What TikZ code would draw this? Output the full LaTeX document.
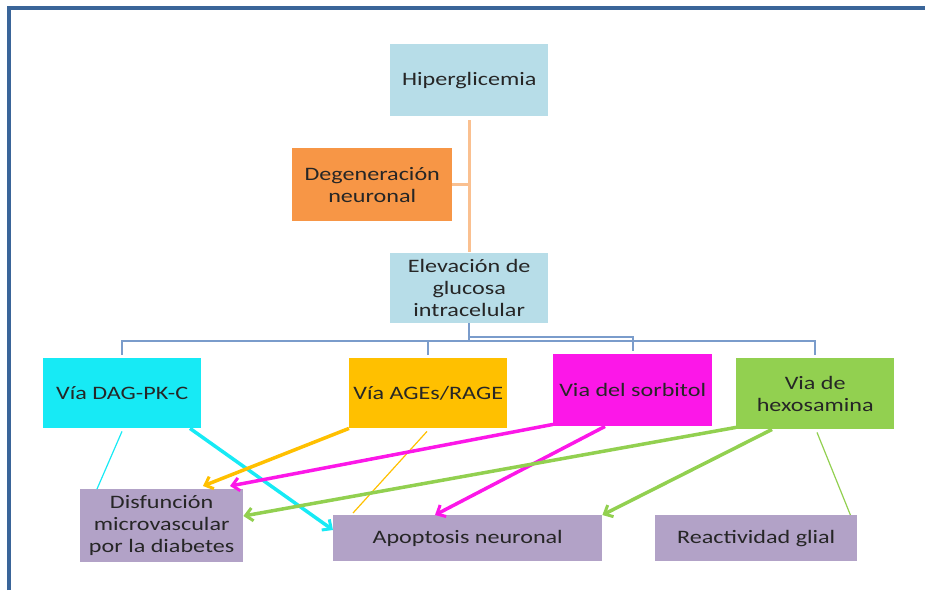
\documentclass[tikz,border=0pt]{standalone}
\usepackage{fontspec}
\setmainfont{Carlito}[FakeStretch=1.27]
\usetikzlibrary{arrows.meta}
\definecolor{frameblue}{HTML}{3A6599}
\definecolor{lblue}{HTML}{B7DDE8}
\definecolor{orangebox}{HTML}{F79646}
\definecolor{peach}{HTML}{FAC090}
\definecolor{cyanbox}{HTML}{17EAF5}
\definecolor{goldbox}{HTML}{FFC000}
\definecolor{magbox}{HTML}{FC17E8}
\definecolor{greenbox}{HTML}{92D050}
\definecolor{lav}{HTML}{B2A2C7}
\definecolor{linkblue}{HTML}{7A9CCB}
\begin{document}
\begin{tikzpicture}[x=1pt,y=-1pt,
  box/.style={inner sep=0pt, align=center, anchor=north west, text=black!85,
    font=\fontsize{19}{22}\selectfont},
  bl/.style={draw=linkblue, line width=2pt},
  orl/.style={draw=peach, line width=3pt},
  thick arrow/.style={line width=3.5pt, -{Straight Barb[length=7pt,width=13pt,line width=3pt]}},
  thin link/.style={line width=1.2pt}]
\useasboundingbox (0,0) rectangle (925,590);
% frame
\draw[frameblue, line width=4pt] (9,590) -- (9,8) -- (925,8);
% nodes
\node[box, fill=lblue, minimum width=158pt, minimum height=72pt] (hip) at (390,44) {Hiperglicemia};
\node[box, fill=orangebox, minimum width=160pt, minimum height=73pt] (deg) at (292,148) {Degeneración\\neuronal};
\node[box, fill=lblue, minimum width=158pt, minimum height=70pt] (elev) at (390,253) {Elevación de\\glucosa\\intracelular};
\node[box, fill=cyanbox, minimum width=158pt, minimum height=70pt] (dag) at (43,358) {Vía DAG-PK-C};
\node[box, fill=goldbox, minimum width=158pt, minimum height=70pt] (age) at (349,358) {Vía AGEs/RAGE};
\node[box, fill=magbox, minimum width=159pt, minimum height=72pt] (sor) at (553,354) {Via del sorbitol};
\node[box, fill=greenbox, minimum width=158pt, minimum height=71pt] (hex) at (736,358) {Via de\\hexosamina};
\node[box, fill=lav, minimum width=163pt, minimum height=73pt] (dis) at (80,489) {Disfunción\\microvascular\\por la diabetes};
\node[box, fill=lav, minimum width=269pt, minimum height=46pt] (apo) at (333,515) {Apoptosis neuronal};
\node[box, fill=lav, minimum width=202pt, minimum height=46pt] (gli) at (655,515) {Reactividad glial};
% orange link
\draw[orl] ([yshift=-4pt]hip.south) -- ([yshift=1pt]elev.north);
\draw[orl] (deg.east) -- (deg.east -| hip.south);
% blue links
\draw[bl, shorten >=3pt] (elev.south) -- ++(0,18) -| (dag.north);
\draw[bl, shorten >=3pt] (elev.south) -- ++(0,18) -| (age.north);
\draw[bl, shorten >=3pt] (elev.south) -- ++(0,18) -| (hex.north);
\draw[bl, shorten >=3pt] (elev.south) -- ++(0,14) -| (sor.north);
% cyan
\draw[cyanbox, thin link] ([xshift=79pt,yshift=-3pt]dag.south west) -- ([xshift=17pt]dis.north west);
\draw[cyanbox, thick arrow] ([xshift=147pt]dag.south west) -- ([yshift=-15pt]apo.north west);
% gold
\draw[goldbox, thick arrow] (age.south west) -- ([xshift=123pt,yshift=3pt]dis.north west);
\draw[goldbox, thin link] ([xshift=78pt,yshift=-3pt]age.south west) -- ([xshift=20pt,yshift=2pt]apo.north west);
% magenta
\draw[magbox, thick arrow] ([yshift=2pt]sor.south west) -- ([xshift=150pt,yshift=3pt]dis.north west);
\draw[magbox, thick arrow] ([xshift=52pt]sor.south west) -- ([xshift=102pt]apo.north west);
% green
\draw[greenbox, thick arrow] ([yshift=2pt]hex.south west) -- ([yshift=-27pt]dis.north east);
\draw[greenbox, thick arrow] ([xshift=36pt]hex.south west) -- (apo.north east);
\draw[greenbox, thin link] ([xshift=81pt,yshift=-3pt]hex.south west) -- ([xshift=-7pt]gli.north east);
\end{tikzpicture}
\end{document}
